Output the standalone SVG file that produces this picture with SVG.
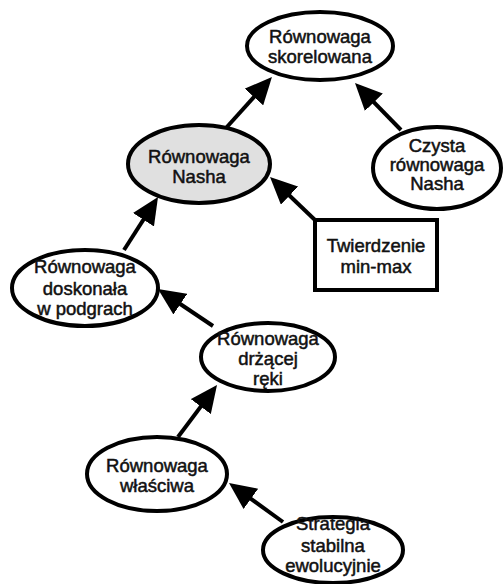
<svg xmlns="http://www.w3.org/2000/svg" width="503" height="584" viewBox="0 0 503 584">
<style>
.n{fill:#fff;stroke:#000;stroke-width:4}
.g{fill:#e0e0e0}
.t{font-family:"Liberation Sans",Arial,sans-serif;font-size:18.5px;fill:#111;stroke:#111;stroke-width:0.5;text-anchor:middle}
.c{stroke:#000;stroke-width:4;fill:none;marker-end:url(#ah)}
</style>
<defs>
<marker id="ah" markerUnits="userSpaceOnUse" markerWidth="27" markerHeight="25" refX="19" refY="12.5" orient="auto">
<path d="M0,0 L27,12.5 L0,25 z" fill="#000"/>
</marker>
</defs>
<g id="connectors">
<line class="c" x1="226" y1="128" x2="266.6" y2="82.9"/>
<line class="c" x1="401" y1="130" x2="360.6" y2="88.7"/>
<line class="c" x1="315" y1="220" x2="275.8" y2="182.5"/>
<line class="c" x1="124" y1="250" x2="153.7" y2="203.7"/>
<line class="c" x1="213" y1="326" x2="164.6" y2="293.5"/>
<line class="c" x1="178" y1="437" x2="212.2" y2="391.4"/>
<line class="c" x1="283" y1="522" x2="235.5" y2="487.7"/>
</g>
<g id="skorelowana">
<ellipse class="n" cx="320" cy="46" rx="73" ry="34"/>
<text class="t" x="320" y="43">Równowaga</text>
<text class="t" x="320" y="63">skorelowana</text>
</g>
<g id="nasha">
<ellipse class="n g" cx="199" cy="164" rx="71" ry="39"/>
<text class="t" x="199" y="163">Równowaga</text>
<text class="t" x="199" y="183">Nasha</text>
</g>
<g id="czysta">
<ellipse class="n" cx="437" cy="168" rx="64" ry="41"/>
<text class="t" x="437" y="152">Czysta</text>
<text class="t" x="437" y="171">równowaga</text>
<text class="t" x="437" y="190">Nasha</text>
</g>
<g id="minmax">
<rect class="n" x="315" y="220" width="122" height="70"/>
<text class="t" x="376" y="252">Twierdzenie</text>
<text class="t" x="376" y="273">min-max</text>
</g>
<g id="doskonala">
<ellipse class="n" cx="85" cy="288" rx="73" ry="38"/>
<text class="t" x="85" y="273">Równowaga</text>
<text class="t" x="85" y="295">doskonała</text>
<text class="t" x="85" y="315">w podgrach</text>
</g>
<g id="drzacej">
<ellipse class="n" cx="268" cy="357" rx="67" ry="34"/>
<text class="t" x="268" y="345">Równowaga</text>
<text class="t" x="268" y="365">drżącej</text>
<text class="t" x="268" y="385">ręki</text>
</g>
<g id="wlasciwa">
<ellipse class="n" cx="157" cy="474" rx="70" ry="37"/>
<text class="t" x="157" y="472">Równowaga</text>
<text class="t" x="157" y="492">właściwa</text>
</g>
<g id="strategia">
<ellipse class="n" cx="333" cy="550" rx="70" ry="33"/>
<text class="t" x="333" y="530">Strategia</text>
<text class="t" x="333" y="552">stabilna</text>
<text class="t" x="333" y="572">ewolucyjnie</text>
</g>
</svg>
